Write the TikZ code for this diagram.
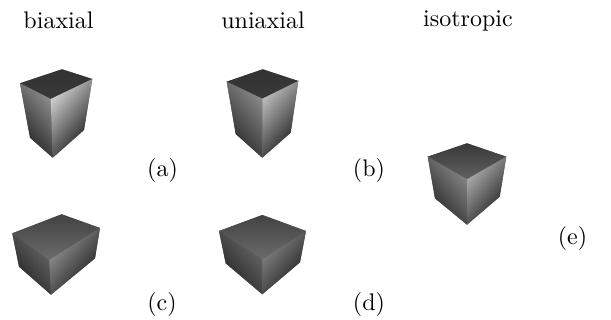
\documentclass[tikz,border=0pt]{standalone}
\tikzset{
  lbl/.style={inner sep=0pt,scale=2.4,anchor=base,text=black}
}
% corners: top, left, right, front, bottom, left-bottom, right-bottom
% tones (percent black): top far/near, left dark/light, right light/dark
\newcommand{\mkcube}[8]{%
  \coordinate (T) at #1; \coordinate (L) at #2; \coordinate (R) at #3; \coordinate (F) at #4;
  \coordinate (B) at #5; \coordinate (LB) at #6; \coordinate (RB) at #7;
  \foreach \a/\b/\d/\e/\f/\g in {#8} {%
    \fill[black!60] (T)--(L)--(LB)--(B)--(RB)--(R)--cycle;
    \shade[top color=black!\a,bottom color=black!\b] (T)--(L)--(F)--(R)--cycle;
    \shade[bottom color=black!\d,top color=black!\e,shading angle=-50] (L)--(F)--(B)--(LB)--cycle;
    \shade[top color=black!\f,bottom color=black!\g,shading angle=50] (F)--(R)--(RB)--(B)--cycle;
  }%
}
\begin{document}
\begin{tikzpicture}[x=1pt,y=-1pt]
\useasboundingbox (0,0) rectangle (611,320);
\fill[white] (0,0) rectangle (611,320);
\mkcube{(62,69.3)}{(20,83.3)}{(92.3,79)}{(50.7,99)}{(52.7,157.7)}{(30,137.7)}{(84,130)}{80/78/88/44/18/92}
\mkcube{(262.7,69.3)}{(226.7,81.7)}{(298.3,81)}{(262.3,98.7)}{(262.3,157.7)}{(235.7,134)}{(290.7,132.7)}{80/78/86/46/26/90}
\mkcube{(61.7,214.3)}{(12.3,233.3)}{(100,228)}{(49.3,260)}{(51,294.7)}{(19,266.7)}{(95,258.3)}{74/58/88/58/40/92}
\mkcube{(262.3,215)}{(219,231)}{(306,231)}{(262.3,259.3)}{(262.3,294.3)}{(225.7,263.3)}{(300,262.3)}{74/58/88/58/46/90}
\mkcube{(467,143.3)}{(427.7,156.7)}{(506.3,156.7)}{(467,179.3)}{(467,224.7)}{(435,198.3)}{(499.7,196.7)}{78/62/86/46/30/90}
\node[lbl] (t1) at (58.5,29) {biaxial};
\node[lbl] (t2) at (263,29) {uniaxial};
\node[lbl] (t3) at (468,27) {isotropic};
\node[lbl] (a) at (162.5,176.5) {(a)};
\begin{scope}
\clip (340,150) rectangle (382,190);
\node[lbl] (b) at (369,176.5) {(b)};
\end{scope}
\node[lbl] (c) at (162,311) {(c)};
\node[lbl] (d) at (369,311) {(d)};
\node[lbl] (e) at (572.5,245) {(e)};
\end{tikzpicture}
\end{document}
